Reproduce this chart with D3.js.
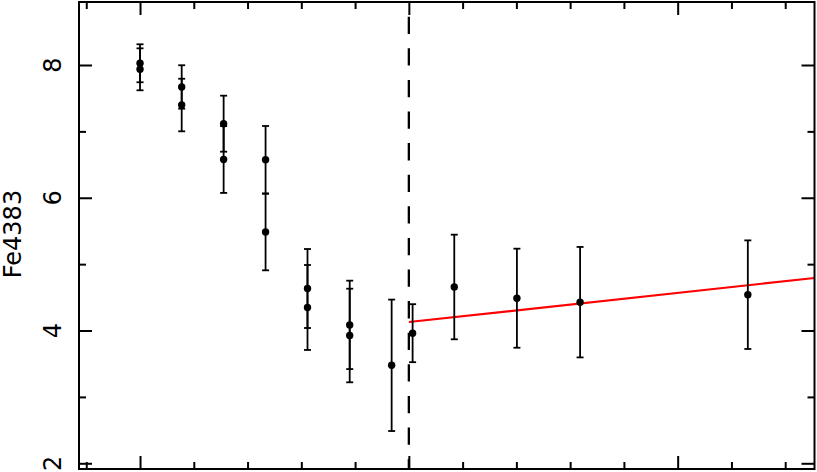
<!DOCTYPE html>
<html lang="en">
<head>
  <meta charset="UTF-8">
  <title>Fe4383 profile</title>
  <script src="https://d3js.org/d3.v7.min.js"></script>
  <style>
    body {
      margin: 0;
      overflow: hidden;
      background: #fff;
    }
    svg {
      display: block;
    }
  </style>
</head>
<body>
  <svg id="container"></svg>

  <script>
    // Data (x in arbitrary axis units, the x labels are cropped)
    const radius  = [-1.0, -1.0, -0.845, -0.845, -0.689, -0.689, -0.533, -0.533,
                     -0.377, -0.377, -0.22, -0.22, -0.064, 0.014, 0.169, 0.402, 0.637, 1.261];
    const fe4383  = [8.026, 7.935, 7.669, 7.397, 7.116, 6.576, 6.573, 5.484,
                     4.633, 4.347, 4.085, 3.925, 3.476, 3.96, 4.656, 4.487, 4.427, 4.54];
    const feErr   = [0.286, 0.316, 0.327, 0.396, 0.422, 0.503, 0.508, 0.577,
                     0.595, 0.64, 0.666, 0.705, 0.99, 0.437, 0.788, 0.746, 0.832, 0.818];

    // Linear fit beyond the break (end points)
    const fitX = [0, 1.509];
    const fitY = [4.128, 4.791];
    const breakX = 0;

    // Tick values
    const yMajor = [2, 4, 6, 8];
    const yMinor = [3, 5, 7];
    const xMajor = [-1, 0, 1];
    const xMinor = d3.range(-6, 8).filter(i => i % 5 !== 0).map(i => i * 0.2);

    const width = 817;
    const height = 472;
    const frame = { left: 79, right: 814.5, top: 2, bottom: 469 };

    const svg = d3.select("#container")
                  .attr("width", width)
                  .attr("height", height);

    const x = d3.scaleLinear().domain([-1.227, 1.509]).range([frame.left, frame.right]);
    const y = d3.scaleLinear().domain([1.914, 8.949]).range([frame.bottom, frame.top]);

    const points = radius.map((r, i) => ({ x: r, y: fe4383[i], e: feErr[i] }));

    // ticks, all pointing inwards
    function addTicks(axis, transform) {
      const g = svg.append("g").attr("transform", transform).call(axis);
      g.select(".domain").remove();
      g.selectAll(".tick line").attr("stroke", "#000").attr("stroke-width", 2);
      g.selectAll(".tick text").remove();
    }

    addTicks(d3.axisBottom(x).tickValues(xMajor).tickSize(-13).tickSizeOuter(0), `translate(0,${frame.bottom})`);
    addTicks(d3.axisBottom(x).tickValues(xMinor).tickSize(-7).tickSizeOuter(0), `translate(0,${frame.bottom})`);
    addTicks(d3.axisTop(x).tickValues(xMajor).tickSize(-13).tickSizeOuter(0), `translate(0,${frame.top})`);
    addTicks(d3.axisTop(x).tickValues(xMinor).tickSize(-7).tickSizeOuter(0), `translate(0,${frame.top})`);
    addTicks(d3.axisLeft(y).tickValues(yMajor).tickSize(-13).tickSizeOuter(0), `translate(${frame.left},0)`);
    addTicks(d3.axisLeft(y).tickValues(yMinor).tickSize(-7).tickSizeOuter(0), `translate(${frame.left},0)`);
    addTicks(d3.axisRight(y).tickValues(yMajor).tickSize(-13).tickSizeOuter(0), `translate(${frame.right},0)`);
    addTicks(d3.axisRight(y).tickValues(yMinor).tickSize(-7).tickSizeOuter(0), `translate(${frame.right},0)`);

    // y tick labels, written vertically
    svg.append("g")
       .selectAll("text")
       .data(yMajor)
       .join("text")
       .attr("transform", d => `translate(61,${y(d)}) rotate(-90)`)
       .attr("text-anchor", "middle")
       .attr("font-family", "DejaVu Sans, sans-serif")
       .attr("font-size", 24)
       .attr("fill", "#000")
       .text(d => d);

    // y axis title
    svg.append("text")
       .attr("transform", `translate(21,234) rotate(-90)`)
       .attr("text-anchor", "middle")
       .attr("font-family", "DejaVu Sans, sans-serif")
       .attr("font-size", 24)
       .attr("fill", "#000")
       .text("Fe4383");

    // dashed break line
    svg.append("line")
       .attr("x1", x(breakX)).attr("x2", x(breakX))
       .attr("y1", frame.top).attr("y2", frame.bottom)
       .attr("stroke", "#000")
       .attr("stroke-width", 2.3)
       .attr("stroke-dasharray", "17.3,14.3")
       .attr("stroke-dashoffset", 16.9);

    // red fit
    svg.append("line")
       .attr("x1", x(fitX[0])).attr("y1", y(fitY[0]))
       .attr("x2", x(fitX[1])).attr("y2", y(fitY[1]))
       .attr("stroke", "#ff0000")
       .attr("stroke-width", 2.2);

    // error bars
    const bars = svg.append("g")
                    .attr("stroke", "#000")
                    .attr("stroke-width", 1.8);

    bars.selectAll("line.bar")
        .data(points)
        .join("line")
        .attr("class", "bar")
        .attr("x1", d => x(d.x)).attr("x2", d => x(d.x))
        .attr("y1", d => y(d.y - d.e)).attr("y2", d => y(d.y + d.e));

    bars.selectAll("line.capTop")
        .data(points)
        .join("line")
        .attr("class", "capTop")
        .attr("x1", d => x(d.x) - 3.5).attr("x2", d => x(d.x) + 3.5)
        .attr("y1", d => y(d.y + d.e)).attr("y2", d => y(d.y + d.e));

    bars.selectAll("line.capBottom")
        .data(points)
        .join("line")
        .attr("class", "capBottom")
        .attr("x1", d => x(d.x) - 3.5).attr("x2", d => x(d.x) + 3.5)
        .attr("y1", d => y(d.y - d.e)).attr("y2", d => y(d.y - d.e));

    // points
    svg.append("g")
       .selectAll("circle")
       .data(points)
       .join("circle")
       .attr("cx", d => x(d.x))
       .attr("cy", d => y(d.y))
       .attr("r", 3.7)
       .attr("fill", "#000");

    // frame
    svg.append("rect")
       .attr("x", frame.left)
       .attr("y", frame.top)
       .attr("width", frame.right - frame.left)
       .attr("height", frame.bottom - frame.top)
       .attr("fill", "none")
       .attr("stroke", "#000")
       .attr("stroke-width", 2);
  </script>
</body>
</html>
